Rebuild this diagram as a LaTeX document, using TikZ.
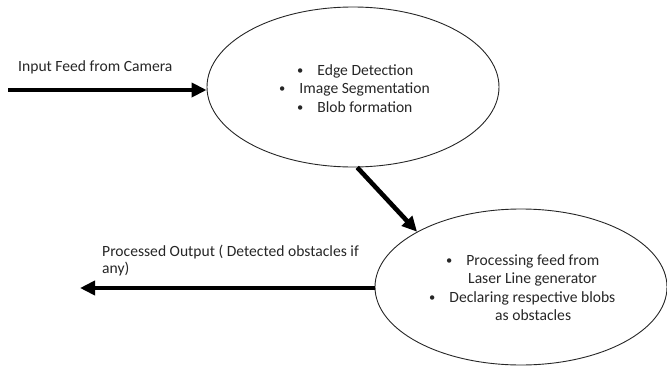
\documentclass[tikz,border=0pt]{standalone}
\usepackage{fontspec}
\setmainfont{Carlito}
\usetikzlibrary{shapes.geometric,arrows.meta}
\newcommand{\smallbul}{\raisebox{0.6pt}{\fontsize{12.5}{14}\selectfont\textbullet}}
\begin{document}
\begin{tikzpicture}[x=1pt,y=-1pt,
  blob/.style={draw=black!85,line width=0.9pt,ellipse,inner sep=0pt},
  flow/.style={line width=4.6pt,-{Triangle[length=15pt,width=14pt]}},
  lbl/.style={font=\fontsize{15.6}{18}\selectfont,text=black!85,inner sep=0pt,anchor=base west}]
\useasboundingbox (0,0) rectangle (667,367);
\node[blob,minimum width=292pt,minimum height=160pt] (e1) at (353,87) {};
\node[blob,minimum width=292pt,minimum height=156pt] (e2) at (521,287) {};
\coordinate (in) at (8,90);
\coordinate (out) at (80,288);
\node[lbl] (tin) at (18,71) {Input Feed from Camera};
\node[lbl] (l11) at (297,75) {\smallbul\hspace{14pt}Edge Detection};
\node[lbl] (l12) at (279,93) {\smallbul\hspace{14pt}Image Segmentation};
\node[lbl] (l13) at (297,112) {\smallbul\hspace{14pt}Blob formation};
\node[lbl] (l21) at (446,265) {\smallbul\hspace{14pt}Processing feed from};
\node[lbl] (l22) at (468,283) {Laser Line generator};
\node[lbl] (l23) at (429,302) {\smallbul\hspace{14pt}Declaring respective blobs};
\node[lbl] (l24) at (495,320) {as obstacles};
\node[lbl] (tout1) at (102,256) {Processed Output ( Detected obstacles if};
\node[lbl] (tout2) at (102,273) {any)};
\draw[flow] (in) -- (in -| e1.west);
\draw[flow] (e1.-87) -- (e2.152);
\draw[flow] (out -| e2.west) -- (out);
\end{tikzpicture}
\end{document}
